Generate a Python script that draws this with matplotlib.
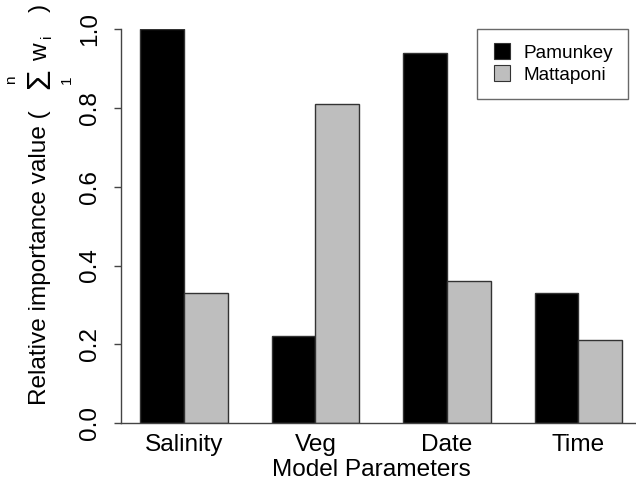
import matplotlib
matplotlib.use("Agg")
import matplotlib.pyplot as plt
from matplotlib.lines import Line2D
import numpy as np

# relative importance values
categories = ["Salinity", "Veg", "Date", "Time"]
pamunkey = [1.00, 0.22, 0.94, 0.33]
mattaponi = [0.33, 0.81, 0.36, 0.21]
series_names = ["Pamunkey", "Mattaponi"]

plt.rcParams['font.family'] = ['Liberation Sans', 'DejaVu Sans']

W, H = 636, 484
fig = plt.figure(figsize=(W / 100, H / 100), dpi=100)
# plot region in pixels (R style barplot: bars of width 1, space c(0,1))
left_px, right_px, top_px, bottom_px = 120.7, 641.6, 29.3, 423.0
ax = fig.add_axes([left_px / W, 1 - bottom_px / H,
                   (right_px - left_px) / W, (bottom_px - top_px) / H])

black = '#000000'
grey = '#bebebe'
edge = '#333333'

idx = np.arange(len(categories))
start = 1 + 3 * idx
ax.bar(start, pamunkey, width=1, align='edge', color=black, edgecolor=edge, linewidth=1)
ax.bar(start + 1, mattaponi, width=1, align='edge', color=grey, edgecolor=edge, linewidth=1)

ax.set_xlim(0.56, 12.44)
ax.set_ylim(0, 1)

for s in ['top', 'right']:
    ax.spines[s].set_visible(False)
for s in ['left', 'bottom']:
    ax.spines[s].set_color('#444444')
    ax.spines[s].set_linewidth(1)

ax.set_yticks(np.arange(0, 1.01, 0.2))
ax.set_yticklabels(["%.1f" % v for v in np.arange(0, 1.01, 0.2)])
ax.tick_params(axis='y', labelrotation=90, length=5, width=1, color='#444444',
               pad=9, labelsize=17.6)
for lab in ax.get_yticklabels():
    lab.set_va('center')

ax.set_xticks(start + 1)
ax.set_xticklabels(categories)
ax.tick_params(axis='x', length=0, pad=8, labelsize=17.6)

fig.text(0.5 * (left_px + 623) / W, 1 - 470 / H, "Model Parameters",
         ha='center', va='center', fontsize=17.6)

# y label built from pieces so the summation sign can be drawn large (R plotmath style)
def ylab_piece(x, y, s, size, va='center'):
    fig.text(x / W, 1 - y / H, s, rotation=90, ha='center', va=va, fontsize=size)

ylab_piece(40, 405, "Relative importance value (", 17.6, va='bottom')
ylab_piece(41, 79, "\u03a3", 24)
ylab_piece(11, 80, "n", 11)
ylab_piece(67, 80, "1", 11)
ylab_piece(41, 52, "w", 17.6)
ylab_piece(47, 36, "i", 11)
ylab_piece(40, 8, ")", 17.6)

handles = [Line2D([], [], linestyle='none', marker='s', markersize=11,
                  markerfacecolor=c, markeredgecolor=edge, markeredgewidth=0.8)
           for c in [black, grey]]
leg = fig.legend(handles, series_names, loc='upper right',
                 bbox_to_anchor=(628 / W, 1 - top_px / H),
                 fontsize=13.7, frameon=True, fancybox=False, borderpad=0.8,
                 handlelength=1.05, handletextpad=0.6, labelspacing=0.25,
                 borderaxespad=0)
leg.get_frame().set_edgecolor('#444444')
leg.get_frame().set_linewidth(1)

fig.savefig("out.png", dpi=100)
